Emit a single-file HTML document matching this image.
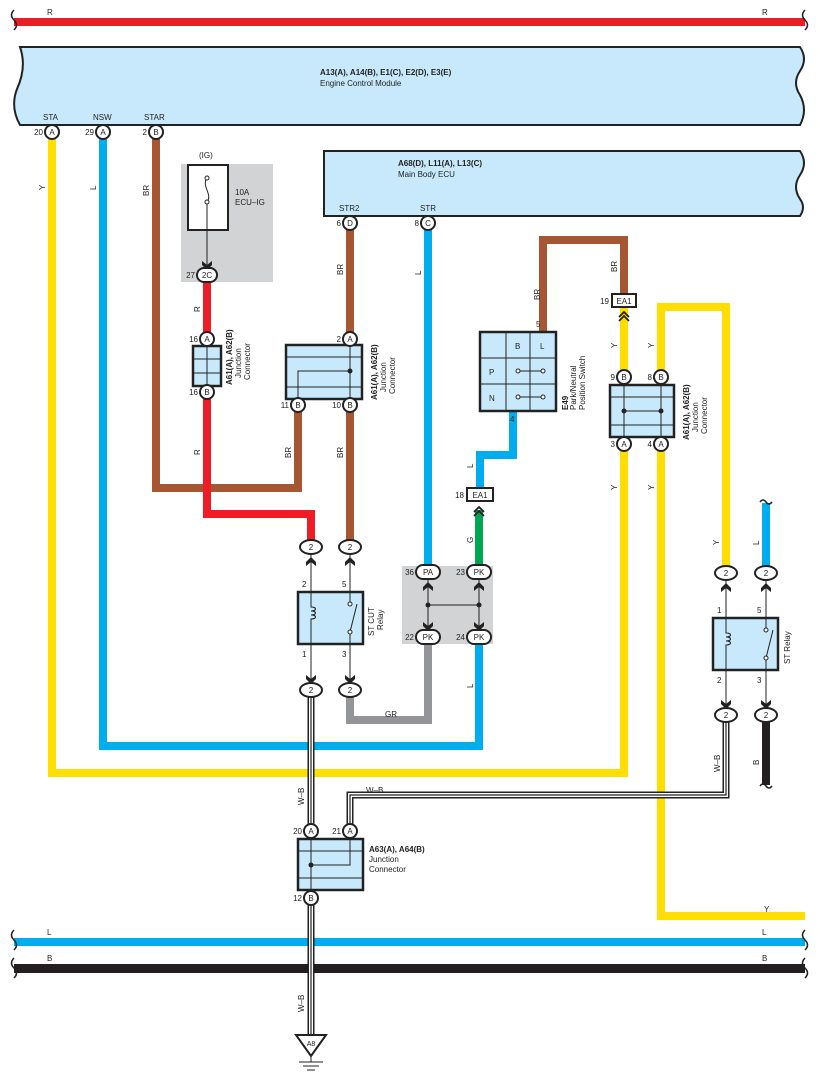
<!DOCTYPE html>
<html><head><meta charset="utf-8"><style>
html,body{margin:0;padding:0;background:#fff}
svg{display:block}
text{font-family:"Liberation Sans",sans-serif;font-size:8px;fill:#222}
.b{font-weight:bold}
</style></head><body>
<svg width="818" height="1087" viewBox="0 0 818 1087" xmlns="http://www.w3.org/2000/svg">
<defs>
<g id="chev"><path d="M-5,-6 L0,-2 L5,-6 L5,-2 L0,3 L-5,-2 Z" fill="#222"/></g>
<g id="chevu"><path d="M-5,6 L0,2 L5,6 L5,2 L0,-3 L-5,2 Z" fill="#222"/></g>
</defs>
<!-- top red bus -->
<rect x="14" y="18" width="791" height="8" fill="#ee1c25"/>
<path d="M14,10 q-5,5 0,10 q5,5 0,10" fill="none" stroke="#222" stroke-width="1.5"/>
<path d="M805,10 q-5,5 0,10 q5,5 0,10" fill="none" stroke="#222" stroke-width="1.5"/>
<text x="47" y="15">R</text><text x="762" y="15">R</text>

<!-- ECM -->
<path d="M20,47 L800,47 q8,12 0,24 q-8,12 0,24 q8,15 0,30 L20,125 q-10,-18 -3,-36 q10,-22 3,-42 Z" fill="#c8e9fb" stroke="#222" stroke-width="2"/>
<text x="320" y="75" class="b">A13(A), A14(B), E1(C), E2(D), E3(E)</text>
<text x="320" y="86">Engine Control Module</text>
<text x="43" y="120">STA</text><text x="93" y="120">NSW</text><text x="144" y="120">STAR</text>

<!-- Main Body ECU -->
<path d="M324,151 L800,151 q8,12 0,24 q-8,12 0,24 q6,8 0,17 L324,216 Z" fill="#c8e9fb" stroke="#222" stroke-width="2"/>
<text x="398" y="166" class="b">A68(D), L11(A), L13(C)</text>
<text x="398" y="177">Main Body ECU</text>
<text x="339" y="211">STR2</text><text x="420" y="211">STR</text>

<!-- IG fuse -->
<rect x="181" y="164" width="92" height="118" fill="#d2d3d5"/>
<rect x="188" y="165" width="40" height="65" fill="#fff" stroke="#222" stroke-width="2"/>
<path d="M207,178 c-6,8 6,16 0,24 M207,202 L207,268" fill="none" stroke="#222" stroke-width="1"/>
<circle cx="207" cy="178" r="2" fill="#fff" stroke="#222"/><circle cx="207" cy="202" r="2" fill="#fff" stroke="#222"/>
<text x="199" y="158">(IG)</text>
<text x="235" y="195">10A</text><text x="235" y="205">ECU–IG</text>

<!-- grey relay block bg -->
<rect x="402" y="566" width="91" height="78" fill="#d2d3d5"/>

<!-- wires -->
<g fill="none" stroke-width="8" stroke-linejoin="miter">
<path d="M52,139 L52,773 L624,773 L624,307" stroke="#ffde00"/>
<path d="M661,444 L661,916 L805,916" stroke="#ffde00"/>
<path d="M661,377 L661,307 L726,307 L726,566" stroke="#ffde00"/>
<path d="M103,139 L103,746 L479,746 L479,644" stroke="#00aeef"/>
<path d="M156,139 L156,488 L298,488 L298,412" stroke="#a65632"/>
<path d="M350,230 L350,332" stroke="#a65632"/>
<path d="M350,412 L350,540" stroke="#a65632"/>
<path d="M543,332 L543,240 L624,240 L624,294" stroke="#a65632"/>
<path d="M207,282 L207,332" stroke="#ee1c25"/>
<path d="M207,399 L207,514 L311,514 L311,540" stroke="#ee1c25"/>
<path d="M428,230 L428,566" stroke="#00aeef"/>
<path d="M513,411 L513,455 L480,455 L480,488" stroke="#00aeef"/>
<path d="M479,510 L479,566" stroke="#00a651"/>
<path d="M428,644 L428,720 L350,720 L350,697" stroke="#939598"/>
<path d="M766,503 L766,566" stroke="#00aeef"/>
<path d="M766,722 L766,785" stroke="#231f20"/>
</g>
<path d="M760,502 q3,-4 6,0 q3,4 6,0" fill="none" stroke="#222" stroke-width="1.5"/>
<path d="M760,786 q3,-4 6,0 q3,4 6,0" fill="none" stroke="#222" stroke-width="1.5"/>

<!-- bottom buses -->
<rect x="14" y="938" width="791" height="8" fill="#00aeef"/>
<rect x="14" y="964" width="791" height="9" fill="#231f20"/>
<path d="M14,930 q-5,5 0,10 q5,5 0,10 M14,958 q-5,5 0,10 q5,5 0,10" fill="none" stroke="#222" stroke-width="1.5"/>
<path d="M805,930 q-5,5 0,10 q5,5 0,10 M805,958 q-5,5 0,10 q5,5 0,10" fill="none" stroke="#222" stroke-width="1.5"/>
<text x="47" y="935">L</text><text x="762" y="935">L</text>
<text x="47" y="961">B</text><text x="762" y="961">B</text>

<!-- W-B triple wires -->
<g fill="none">
<path d="M311,697 L311,1035" stroke="#222" stroke-width="7"/>
<path d="M311,697 L311,1035" stroke="#fff" stroke-width="4"/>
<path d="M311,697 L311,1035" stroke="#222" stroke-width="1.2"/>
<path d="M726,722 L726,795 L350,795 L350,824" stroke="#222" stroke-width="7"/>
<path d="M726,722 L726,795 L350,795 L350,824" stroke="#fff" stroke-width="4"/>
<path d="M726,722 L726,795 L350,795 L350,824" stroke="#222" stroke-width="1.2"/>
</g>
<text x="366" y="793">W–B</text>

<!-- junction connector small -->
<rect x="193" y="346" width="28" height="40" fill="#c8e9fb" stroke="#222" stroke-width="2.5"/>
<path d="M193,359 H221 M193,373 H221 M207,346 V386" stroke="#222" stroke-width="1"/>
<!-- junction connector 2 -->
<rect x="286" y="345" width="76" height="54" fill="#c8e9fb" stroke="#222" stroke-width="2.5"/>
<path d="M286,357 H362 M286,387 H362 M298,399 V371 H350 M350,345 V399" fill="none" stroke="#222" stroke-width="1"/>
<circle cx="350" cy="371" r="2.5" fill="#222"/>
<!-- junction connector 3 -->
<rect x="610" y="385" width="64" height="52" fill="#c8e9fb" stroke="#222" stroke-width="2.5"/>
<path d="M610,397 H674 M610,425 H674 M624,385 V437 M661,385 V437 M624,411 H661" fill="none" stroke="#222" stroke-width="1"/>
<circle cx="624" cy="411" r="2.5" fill="#222"/><circle cx="661" cy="411" r="2.5" fill="#222"/>
<!-- A63 junction -->
<rect x="298" y="839" width="65" height="51" fill="#c8e9fb" stroke="#222" stroke-width="2.5"/>
<path d="M298,851 H363 M298,878 H363 M311,839 V890 M311,865 H350 V839" fill="none" stroke="#222" stroke-width="1"/>
<circle cx="311" cy="865" r="2.5" fill="#222"/>

<!-- park neutral switch -->
<rect x="480" y="332" width="76" height="79" fill="#c8e9fb" stroke="#222" stroke-width="2.5"/>
<path d="M506,332 V411 M530,332 V411 M480,358 H556 M480,384 H556 M518,371 H543 M518,397 H543" fill="none" stroke="#222" stroke-width="1"/>
<circle cx="518" cy="371" r="2" fill="#fff" stroke="#222"/><circle cx="543" cy="371" r="2" fill="#fff" stroke="#222"/>
<circle cx="518" cy="397" r="2" fill="#fff" stroke="#222"/><circle cx="543" cy="397" r="2" fill="#fff" stroke="#222"/>
<text x="515" y="349">B</text><text x="540" y="349">L</text><text x="489" y="375">P</text><text x="489" y="401">N</text>
<text x="536" y="327">5</text><text x="510" y="422">4</text>

<!-- relays -->
<g fill="none" stroke="#222" stroke-width="1">
<path d="M311,554 V683 M350,554 V683 M726,580 V708 M766,580 V708"/>
<path d="M428,579 V630 M479,579 V630 M428,605 H479"/>
</g>
<rect x="298" y="592" width="65" height="52" fill="#c8e9fb" stroke="#222" stroke-width="2.5"/>
<path d="M311,592 V607 c6,0 6,4 0,4 c6,0 6,4 0,4 c6,0 6,4 0,4 V644 M350,592 V605 M350,632 V644 M350,632 L357,604" fill="none" stroke="#222" stroke-width="1"/>
<circle cx="350" cy="604" r="2" fill="#fff" stroke="#222"/><circle cx="350" cy="632" r="2" fill="#fff" stroke="#222"/>
<rect x="713" y="618" width="65" height="52" fill="#c8e9fb" stroke="#222" stroke-width="2.5"/>
<path d="M726,618 V633 c6,0 6,4 0,4 c6,0 6,4 0,4 c6,0 6,4 0,4 V670 M766,618 V630 M766,658 V670 M766,658 L773,630" fill="none" stroke="#222" stroke-width="1"/>
<circle cx="766" cy="630" r="2" fill="#fff" stroke="#222"/><circle cx="766" cy="658" r="2" fill="#fff" stroke="#222"/>
<circle cx="428" cy="605" r="2.5" fill="#222"/><circle cx="479" cy="605" r="2.5" fill="#222"/>
<text x="302" y="587">2</text><text x="342" y="587">5</text><text x="302" y="657">1</text><text x="342" y="657">3</text>
<text x="717" y="613">1</text><text x="757" y="613">5</text><text x="717" y="683">2</text><text x="757" y="683">3</text>

<!-- chevrons -->
<use href="#chevu" x="311" y="560"/><use href="#chevu" x="350" y="560"/>
<use href="#chev" x="311" y="681"/><use href="#chev" x="350" y="681"/>
<use href="#chevu" x="726" y="586"/><use href="#chevu" x="766" y="586"/>
<use href="#chev" x="726" y="706"/><use href="#chev" x="766" y="706"/>
<use href="#chevu" x="428" y="585"/><use href="#chevu" x="479" y="585"/>
<use href="#chev" x="428" y="628"/><use href="#chev" x="479" y="628"/>
<use href="#chev" x="207" y="267"/>
<path d="M474,512 L479,507 L484,512 M474,516 L479,511 L484,516" fill="none" stroke="#222" stroke-width="1.8"/>
<path d="M619,317 L624,312 L629,317 M619,321 L624,316 L629,321" fill="none" stroke="#222" stroke-width="1.8"/>

<!-- circle pins -->
<g fill="#fff" stroke="#222" stroke-width="2">
<circle cx="52" cy="132" r="7"/><circle cx="103" cy="132" r="7"/><circle cx="156" cy="132" r="7"/>
<circle cx="350" cy="223" r="7"/><circle cx="428" cy="223" r="7"/>
<circle cx="207" cy="339" r="7"/><circle cx="207" cy="392" r="7"/>
<circle cx="350" cy="339" r="7"/><circle cx="298" cy="405" r="7"/><circle cx="350" cy="405" r="7"/>
<circle cx="624" cy="377" r="7"/><circle cx="661" cy="377" r="7"/><circle cx="624" cy="444" r="7"/><circle cx="661" cy="444" r="7"/>
<circle cx="311" cy="831" r="7"/><circle cx="350" cy="831" r="7"/><circle cx="311" cy="898" r="7"/>
<rect x="197" y="268" width="20" height="14" rx="7"/>
<rect x="416" y="565" width="24" height="14" rx="7"/><rect x="467" y="565" width="24" height="14" rx="7"/>
<rect x="416" y="630" width="24" height="14" rx="7"/><rect x="467" y="630" width="24" height="14" rx="7"/>
<ellipse cx="311" cy="547" rx="11" ry="7"/><ellipse cx="350" cy="547" rx="11" ry="7"/>
<ellipse cx="311" cy="690" rx="11" ry="7"/><ellipse cx="350" cy="690" rx="11" ry="7"/>
<ellipse cx="726" cy="573" rx="11" ry="7"/><ellipse cx="766" cy="573" rx="11" ry="7"/>
<ellipse cx="726" cy="715" rx="11" ry="7"/><ellipse cx="766" cy="715" rx="11" ry="7"/>
<rect x="467" y="488" width="26" height="13"/><rect x="612" y="294" width="24" height="13"/>
</g>
<g text-anchor="middle">
<text x="52" y="135">A</text><text x="103" y="135">A</text><text x="156" y="135">B</text>
<text x="350" y="226">D</text><text x="428" y="226">C</text>
<text x="207" y="342">A</text><text x="207" y="395">B</text>
<text x="350" y="342">A</text><text x="298" y="408">B</text><text x="350" y="408">B</text>
<text x="624" y="380">B</text><text x="661" y="380">B</text><text x="624" y="447">A</text><text x="661" y="447">A</text>
<text x="311" y="834">A</text><text x="350" y="834">A</text><text x="311" y="901">B</text>
<text x="207" y="278">2C</text>
<text x="428" y="575">PA</text><text x="479" y="575">PK</text><text x="428" y="640">PK</text><text x="479" y="640">PK</text>
<text x="311" y="550">2</text><text x="350" y="550">2</text><text x="311" y="693">2</text><text x="350" y="693">2</text>
<text x="726" y="576">2</text><text x="766" y="576">2</text><text x="726" y="718">2</text><text x="766" y="718">2</text>
<text x="480" y="498">EA1</text><text x="624" y="304">EA1</text>
</g>
<g text-anchor="end">
<text x="43" y="135">20</text><text x="94" y="135">29</text><text x="147" y="135">2</text>
<text x="341" y="226">6</text><text x="419" y="226">8</text><text x="195" y="278">27</text>
<text x="198" y="342">16</text><text x="198" y="395">16</text><text x="341" y="342">2</text>
<text x="289" y="408">11</text><text x="341" y="408">10</text>
<text x="615" y="380">9</text><text x="652" y="380">8</text><text x="615" y="447">3</text><text x="652" y="447">4</text>
<text x="302" y="834">20</text><text x="341" y="834">21</text><text x="302" y="901">12</text>
<text x="414" y="575">36</text><text x="465" y="575">23</text><text x="414" y="640">22</text><text x="465" y="640">24</text>
<text x="464" y="498">18</text><text x="609" y="304">19</text>
</g>

<!-- ground -->
<path d="M296,1035 L326,1035 L311,1056 Z" fill="#fff" stroke="#222" stroke-width="2"/>
<text x="311" y="1046" text-anchor="middle" style="font-size:7px">A8</text>
<path d="M311,1056 V1062 M299,1062 H323 M303,1066 H319 M307,1070 H315" stroke="#222" stroke-width="1"/>

<!-- rotated labels -->
<g>
<text transform="translate(45,190) rotate(-90)">Y</text>
<text transform="translate(96,190) rotate(-90)">L</text>
<text transform="translate(149,196) rotate(-90)">BR</text>
<text transform="translate(200,312) rotate(-90)">R</text>
<text transform="translate(200,455) rotate(-90)">R</text>
<text transform="translate(343,275) rotate(-90)">BR</text>
<text transform="translate(291,458) rotate(-90)">BR</text>
<text transform="translate(343,458) rotate(-90)">BR</text>
<text transform="translate(421,275) rotate(-90)">L</text>
<text transform="translate(473,468) rotate(-90)">L</text>
<text transform="translate(473,543) rotate(-90)">G</text>
<text transform="translate(473,688) rotate(-90)">L</text>
<text transform="translate(540,300) rotate(-90)">BR</text>
<text transform="translate(617,272) rotate(-90)">BR</text>
<text transform="translate(617,348) rotate(-90)">Y</text>
<text transform="translate(654,348) rotate(-90)">Y</text>
<text transform="translate(617,490) rotate(-90)">Y</text>
<text transform="translate(654,490) rotate(-90)">Y</text>
<text transform="translate(719,545) rotate(-90)">Y</text>
<text transform="translate(759,545) rotate(-90)">L</text>
<text transform="translate(720,772) rotate(-90)">W–B</text>
<text transform="translate(759,765) rotate(-90)">B</text>
<text transform="translate(304,805) rotate(-90)">W–B</text>
<text transform="translate(304,1012) rotate(-90)">W–B</text>
<text transform="translate(232,385) rotate(-90)" class="b">A61(A), A62(B)</text>
<text transform="translate(241,378) rotate(-90)">Junction</text>
<text transform="translate(250,380) rotate(-90)">Connector</text>
<text transform="translate(377,400) rotate(-90)" class="b">A61(A), A62(B)</text>
<text transform="translate(386,392) rotate(-90)">Junction</text>
<text transform="translate(395,394) rotate(-90)">Connector</text>
<text transform="translate(689,440) rotate(-90)" class="b">A61(A), A62(B)</text>
<text transform="translate(698,432) rotate(-90)">Junction</text>
<text transform="translate(707,434) rotate(-90)">Connector</text>
<text transform="translate(568,410) rotate(-90)" class="b">E49</text>
<text transform="translate(576,410) rotate(-90)">Park/Neutral</text>
<text transform="translate(585,410) rotate(-90)">Position Switch</text>
<text transform="translate(374,636) rotate(-90)">ST CUT</text>
<text transform="translate(383,630) rotate(-90)">Relay</text>
<text transform="translate(790,664) rotate(-90)">ST Relay</text>
</g>
<text x="369" y="852" class="b">A63(A), A64(B)</text>
<text x="369" y="862">Junction</text>
<text x="369" y="872">Connector</text>
<text x="764" y="912">Y</text>
<text x="385" y="717">GR</text>
</svg>
</body></html>
